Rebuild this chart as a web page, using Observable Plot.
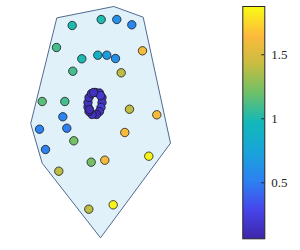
<!DOCTYPE html>
<html><head><meta charset="utf-8">
<script src="https://cdn.jsdelivr.net/npm/d3@7"></script>
<script src="https://cdn.jsdelivr.net/npm/@observablehq/plot@0.6"></script>
<style>
html,body{margin:0;padding:0;background:#fff;}
#wrap{position:relative;width:300px;height:250px;}
#wrap svg{position:absolute;left:0;top:0;}
</style></head>
<body><div id="wrap"></div>
<script>
// Scattered points (x, y, value)
const ptX = [-2.28, 0.62, 2.18, 3.68, -3.85, 4.75, -1.32, 0.28, 1.18, 2.05, -2.22, 2.62, -5.28, -3.02, 3.45, 6.18, -3.22, -5.55, -2.82, -2.12, 2.98, -4.95, 5.38, -0.38, 0.98, -3.62, -0.62, 1.82];
const ptY = [7.75, 8.35, 8.35, 7.82, 5.55, 5.22, 4.42, 4.78, 4.78, 4.45, 3.18, 3.02, 0.15, 0.15, -0.62, -1.18, -1.38, -2.62, -2.52, -3.78, -2.95, -4.65, -5.32, -5.92, -5.72, -6.82, -10.62, -10.18];
const ptV = [1.0, 1.0, 0.6, 0.55, 1.1, 1.62, 1.0, 0.88, 0.68, 0.6, 1.1, 1.4, 1.15, 1.1, 1.4, 1.62, 0.52, 0.52, 0.5, 1.22, 1.62, 0.52, 1.85, 1.22, 1.62, 1.4, 1.4, 1.85];
// Ring of points near the centre
const ringX = [0.05, 0.45, 0.7, 0.7, 0.6, 0.45, 0.15, -0.3, -0.6, -0.7, -0.7, -0.6, -0.35, -0.55, 0.55, -0.15];
const ringY = [1.05, 1.0, 0.55, 0.05, -0.45, -0.85, -1.15, -1.15, -0.85, -0.4, 0.05, 0.55, 0.95, -0.65, 0.75, 1.05];
const ringV = [0.12, 0.18, 0.2, 0.15, 0.22, 0.14, 0.1, 0.16, 0.12, 0.2, 0.15, 0.13, 0.18, 0.11, 0.2, 0.14];
// Boundary polygon vertices
const hullX = [-3.78, 1.88, 4.82, 7.55, 0.55, -5.28, -6.42];
const hullY = [8.52, 9.65, 8.58, -4.02, -13.48, -6.02, -2.1];
// Colorbar
const cbDomain = [0.0625, 1.877];
const cbTicks = [0.5, 1, 1.5];
const parula = ["#3E26A8", "#4746EB", "#2D82F2", "#19A5DA", "#12B8BA", "#6CC06A", "#C6BD40", "#FDBA3C", "#F9FB14"];

const points = ptX.map((x, i) => ({x, y: ptY[i], v: ptV[i]}));
const ring = ringX.map((x, i) => ({x, y: ringY[i], v: ringV[i]}));
const hull = hullX.map((x, i) => ({x, y: hullY[i]}));

const colorScale = {type: "linear", domain: cbDomain, range: parula, interpolate: "rgb",
  clamp: true};
// piecewise domain for the anchors
colorScale.domain = parula.map((_, i) => cbDomain[0] + (cbDomain[1] - cbDomain[0]) * i / (parula.length - 1));

const main = Plot.plot({
  width: 300, height: 250,
  margin: 0,
  x: {domain: [-9.45, 20.55], axis: null},
  y: {domain: [-14.75, 10.25], axis: null},
  color: colorScale,
  marks: [
    Plot.line(hull, {x: "x", y: "y", curve: "linear-closed", fill: "#E1F1FA", stroke: "#4F6B8E", strokeWidth: 1}),
    Plot.dot(points, {x: "x", y: "y", r: 4.2, fill: "v", stroke: "#1a1a1a", strokeWidth: 0.8}),
    Plot.dot(ring, {x: "x", y: "y", r: 4.2, fill: "v", stroke: "#1a1a1a", strokeWidth: 0.8})
  ]
});

const cb = Plot.plot({
  width: 300, height: 250,
  marginLeft: 242.3, marginRight: 35.7, marginTop: 6, marginBottom: 11.7,
  x: {domain: [0, 1], axis: null},
  y: {domain: cbDomain, axis: null},
  color: colorScale,
  style: {background: "transparent"},
  marks: [
    Plot.raster({x1: 0, x2: 1, y1: cbDomain[0], y2: cbDomain[1], width: 1, height: 232, fill: (x, y) => y, imageRendering: "auto"}),
    Plot.ruleY(cbTicks, {x1: 0.86, x2: 1, stroke: "#262626", strokeWidth: 1}),
    Plot.frame({stroke: "#262626", strokeWidth: 1}),
    Plot.axisY(cbTicks, {anchor: "right", tickSize: 0, tickPadding: 6.5, tickFormat: d => String(d),
      fontFamily: "Liberation Serif, Times New Roman, serif", fontSize: 13, fill: "#262626"})
  ]
});

const wrap = document.getElementById("wrap");
wrap.appendChild(main);
wrap.appendChild(cb);
</script>
</body></html>
